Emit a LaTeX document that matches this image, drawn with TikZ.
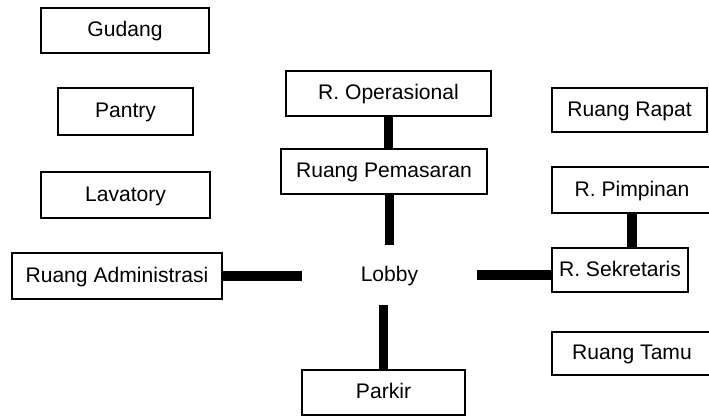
\documentclass[tikz,border=0pt]{standalone}
\usepackage{fontspec}
\setmainfont{Liberation Sans}
\begin{document}
\begin{tikzpicture}[x=0.025cm, y=-0.025cm, font=\fontsize{15}{18}\selectfont,
	room/.style={draw, line width=0.8pt, inner sep=0pt, minimum height=1.125cm, text height=10.7pt, text depth=2pt},
	link/.style={line width=7pt}]
	\useasboundingbox (0,0) rectangle (709,416);
	\node[room, minimum width=4.2cm] (gudang) at (125,30.5) {Gudang};
	\node[room, minimum width=3.375cm, minimum height=1.175cm] (pantry) at (125.5,111.5) {Pantry};
	\node[room, minimum width=4.225cm, minimum height=1.15cm] (lavatory) at (125.5,195) {Lavatory};
	\node[room, minimum width=5.25cm, minimum height=1.15cm] (admin) at (117,276) {Ruang Administrasi};
	\node[room, minimum width=5.125cm] (ops) at (388.5,93.5) {R. Operasional};
	\node[room, minimum width=5.15cm] (pem) at (384,171.5) {Ruang Pemasaran};
	\node[inner sep=0pt, minimum width=4.375cm, minimum height=1.5cm, text height=10.7pt, text depth=2pt] (lobby) at (389.5,275) {Lobby};
	\node[room, minimum width=4.075cm] (parkir) at (383.5,392.5) {Parkir};
	\node[room, minimum width=3.875cm, minimum height=1.1cm] (rapat) at (629.5,110) {Ruang Rapat};
	\node[room, minimum width=4.0cm, minimum height=1.15cm] (pim) at (632,190) {R. Pimpinan};
	\node[room, minimum width=3.4cm, minimum height=1.1cm] (sek) at (620,270) {R. Sekretaris};
	\node[room, minimum width=4.0cm, minimum height=1.075cm] (tamu) at (632,353.5) {Ruang Tamu};
	\draw[link] (ops.south) -- (ops.south |- pem.north);
	\draw[link] (lobby.north |- pem.south) -- (lobby.north);
	\draw[link] (parkir.north |- lobby.south) -- (parkir.north);
	\draw[link] (admin.east) -- (admin.east -| lobby.west);
	\draw[link] (lobby.east) -- (lobby.east -| sek.west);
	\draw[link] (pim.south) -- (pim.south |- sek.north);
\end{tikzpicture}
\end{document}
